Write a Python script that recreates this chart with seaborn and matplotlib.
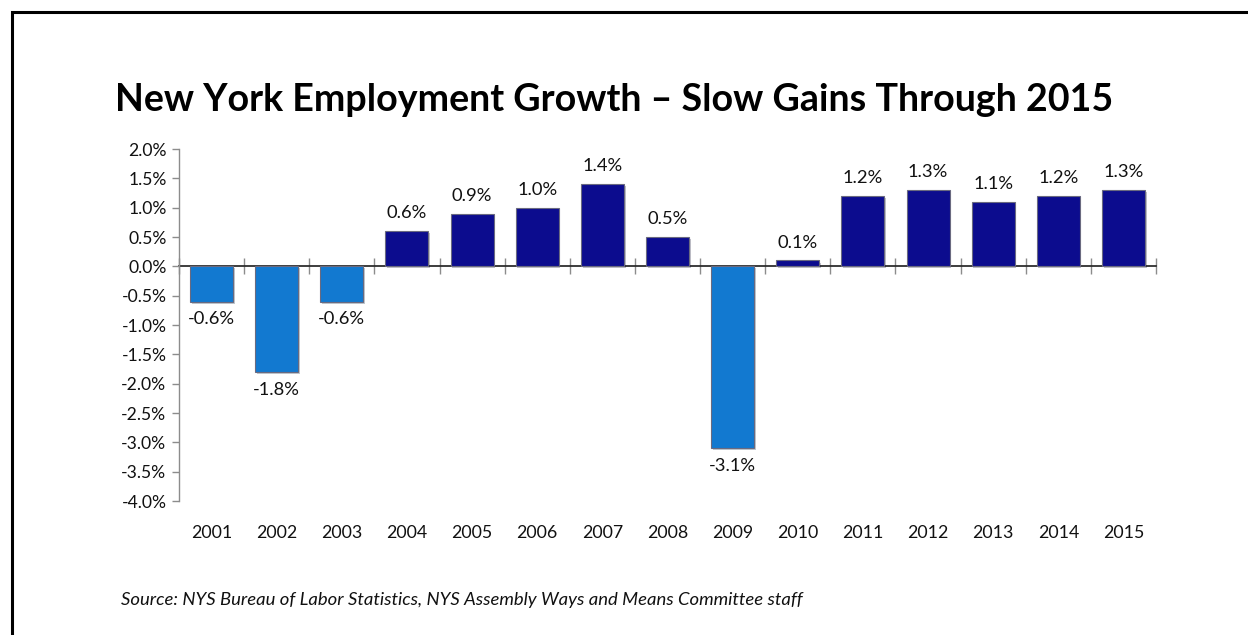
import matplotlib
matplotlib.use("Agg")
import matplotlib.pyplot as plt
import matplotlib.patheffects as pe
from matplotlib.patches import Rectangle
from matplotlib.ticker import FixedLocator, NullFormatter
import numpy as np
import pandas as pd
import seaborn as sns

# Annual employment growth, New York State (percent)
years = ["2001", "2002", "2003", "2004", "2005", "2006", "2007", "2008",
         "2009", "2010", "2011", "2012", "2013", "2014", "2015"]
growth = [-0.6, -1.8, -0.6, 0.6, 0.9, 1.0, 1.4, 0.5,
          -3.1, 0.1, 1.2, 1.3, 1.1, 1.2, 1.3]
y_ticks = [-4.0, -3.5, -3.0, -2.5, -2.0, -1.5, -1.0, -0.5,
           0.0, 0.5, 1.0, 1.5, 2.0]

title = "New York Employment Growth \u2013 Slow Gains Through 2015"
source = "Source: NYS Bureau of Labor Statistics, NYS Assembly Ways and Means Committee staff"

sns.set_theme(style="white")
plt.rcParams["font.family"] = ["Lato", "DejaVu Sans"]

df = pd.DataFrame({"year": years, "growth": growth})
df["sign"] = np.where(df["growth"] < 0, "neg", "pos")
palette = {"neg": "#1279D0", "pos": "#0C0C8E"}

W, H = 1248, 635
fig = plt.figure(figsize=(W / 100, H / 100), dpi=100)
fig.patch.set_facecolor("white")
ax = fig.add_axes([179 / W, 1 - 501 / H, (1156 - 179) / W, (501 - 149) / H])

sns.barplot(data=df, x="year", y="growth", hue="sign", palette=palette,
            dodge=False, width=0.66, order=years, hue_order=["neg", "pos"],
            legend=False, ax=ax, edgecolor="#6A6A80", linewidth=0.8,
            saturation=1)

for patch in ax.patches:
    patch.set_path_effects([pe.SimplePatchShadow(offset=(1.2, -1.5), alpha=0.25),
                            pe.Normal()])

for cont in ax.containers:
    labels = [f"{v:.1f}%" for v in cont.datavalues]
    ax.bar_label(cont, labels=labels, padding=7, fontsize=13.2, color="#111111")

ax.set_xlim(-0.5, len(years) - 0.5)
ax.set_ylim(-4.0, 2.0)
ax.set_yticks(y_ticks)
ax.set_yticklabels([f"{t:.1f}%" for t in y_ticks], fontsize=12.6, color="#111111")
ax.set_xlabel("")
ax.set_ylabel("")
ax.tick_params(axis="x", length=0, pad=17, labelsize=12.8, labelcolor="#111111")
ax.tick_params(axis="y", length=5, width=1, color="#8C8C8C", direction="out",
               left=True, pad=4)

for side in ["top", "right", "bottom"]:
    ax.spines[side].set_visible(False)
ax.spines["left"].set_color("#8C8C8C")
ax.spines["left"].set_linewidth(1)

# Category axis drawn along the zero line, with ticks between the years
zero_frac = (0 - (-4.0)) / (2.0 - (-4.0))
sec = ax.secondary_xaxis(zero_frac)
sec.spines["bottom"].set_color("#8C8C8C")
sec.spines["bottom"].set_linewidth(1)
sec.set_xticks([])
sec.xaxis.set_minor_locator(FixedLocator(np.arange(-0.5, len(years), 1.0)))
sec.xaxis.set_minor_formatter(NullFormatter())
sec.tick_params(axis="x", which="minor", length=6, width=1, color="#8C8C8C",
                direction="out", bottom=True)
sec.tick_params(axis="x", which="major", length=0)

fig.text(115 / W, 1 - 100 / H, title, fontsize=27.1, fontweight="bold",
         ha="left", va="center", color="black")
fig.text(121 / W, 1 - 600 / H, source, fontsize=13.3, fontstyle="italic",
         ha="left", va="center", color="#111111")

# Frame along the top and left edges
fig.add_artist(Rectangle((12 / W, -0.5), 2.0, 1.5 - 12 / H, transform=fig.transFigure,
                         fill=False, edgecolor="black", linewidth=2.2))

fig.savefig("out.png", dpi=100, facecolor="white")
